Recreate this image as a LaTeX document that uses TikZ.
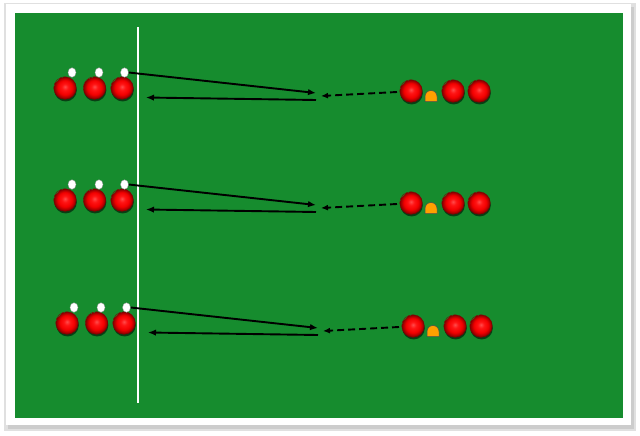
\documentclass[tikz,border=0pt]{standalone}
\usetikzlibrary{shadows,arrows.meta,shapes.geometric}
\definecolor{field}{RGB}{22,140,46}
\definecolor{balldark}{RGB}{130,0,0}
\definecolor{cone}{RGB}{255,160,0}
\pgfdeclareradialshading{ballshade}{\pgfpoint{0bp}{3bp}}{%
  rgb(0bp)=(1,0.3,0.3);
  rgb(7bp)=(1,0.08,0.08);
  rgb(16bp)=(0.95,0,0);
  rgb(21bp)=(0.7,0,0);
  rgb(25bp)=(0.5,0,0)}
\tikzset{
  player/.style={circle,minimum size=22.5pt,inner sep=0pt,draw=balldark,line width=0.5pt,
    shading=ballshade,
    drop shadow={shadow xshift=0.6pt,shadow yshift=-2.2pt,opacity=0.55,fill=black}},
  ballw/.style={ellipse,minimum width=8pt,minimum height=9.5pt,inner sep=0pt,fill=white,draw=black!40,line width=0.3pt},
  pass/.style={draw=black,line width=1.9pt,-{Latex[length=8pt,width=6.5pt]}},
  run/.style={draw=black,line width=1.9pt,dash pattern=on 7pt off 4pt,-{Latex[length=7pt,width=6pt]}},
}
\begin{document}
\begin{tikzpicture}[x=1pt,y=-1pt]
\useasboundingbox (0,0) rectangle (640,436);
\fill[black!12] (4,3) rectangle (636,431);
\fill[black!20] (8,7) rectangle (634,429);
\fill[white] (6,4) rectangle (631,425);
\fill[field] (15,13) rectangle (623,418);
\draw[white,line width=2.6pt] (138,27) -- (138,403);
\foreach \r/\dy/\dx in {1/0/0, 2/112/0, 3/235/2}{
  \begin{scope}[shift={(\dx,\dy)}]
  \node[player] (l1\r) at (65,88) {};
  \node[player] (l2\r) at (94.5,88) {};
  \node[player] (l3\r) at (122,88) {};
  \node[ballw] (w1\r) at (72,72.5) {};
  \node[ballw] (w2\r) at (99,72.5) {};
  \node[ballw] (w3\r) at (124.5,72.5) {};
  \node[player] (r1\r) at (411,91) {};
  \node[player] (r2\r) at (453,91) {};
  \node[player] (r3\r) at (479,91) {};
  \fill[cone,draw=black!70,line width=0.5pt] (425,101.5) -- (425,96.5) arc[start angle=180,end angle=360,radius=6] -- (437,101.5) -- cycle;
  \coordinate (a\r) at (316,93);
  \coordinate (b\r) at (316,100);
  \coordinate (e\r) at (146,97.5);
  \coordinate (d\r) at (397,92);
  \coordinate (f\r) at (321,96);
  \draw[pass] (w3\r.east) -- (a\r);
  \draw[pass] (b\r) -- (e\r);
  \draw[run] (d\r) -- (f\r);
  \end{scope}
}
\end{tikzpicture}
\end{document}
